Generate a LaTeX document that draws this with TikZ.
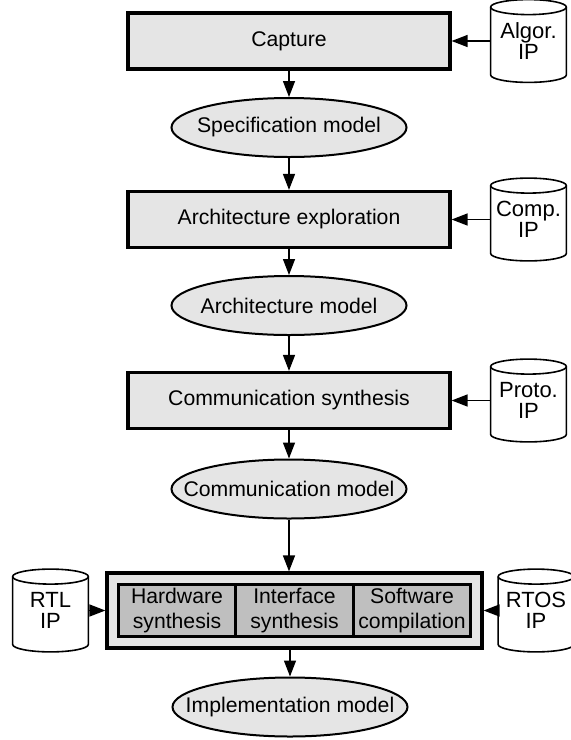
\documentclass[tikz,border=0pt]{standalone}
\usepackage{fontspec}
\setmainfont{Liberation Sans}
\usetikzlibrary{positioning}
\usetikzlibrary{backgrounds}
\usetikzlibrary{arrows.meta}
\usetikzlibrary{shapes.geometric}
\definecolor{stepfill}{gray}{0.9}
\definecolor{subfill}{gray}{0.75}
\tikzset{>={Triangle[length=8pt,width=6pt]}}
\tikzset{flow/.style={->, line width=0.7pt}}
\tikzset{task/.style={draw, line width=1.6pt, fill=stepfill, minimum width=161pt, minimum height=28pt, inner sep=0pt, font=\fontsize{10.6}{12}\selectfont}}
\tikzset{model/.style={draw, ellipse, line width=1pt, fill=stepfill, minimum width=117.5pt, minimum height=29.5pt, inner sep=0pt, font=\fontsize{10.6}{12}\selectfont,
  execute at begin node={\hbox to 0pt\bgroup\hss}, execute at end node={\hss\egroup}}}
\tikzset{lib/.style={minimum width=37.5pt, minimum height=41pt, inner sep=0pt, align=center, font=\fontsize{11}{10.5}\selectfont}}
\tikzset{drum/.style={line width=0.8pt, fill=white}}
\tikzset{sub/.style={draw, line width=1.3pt, fill=subfill, minimum width=58.75pt, minimum height=26pt, inner sep=0pt, align=center, font=\fontsize{10.6}{12.5}\selectfont}}

\begin{document}
\begin{tikzpicture}[x=0.5pt,y=-0.5pt]
        \useasboundingbox (0,0) rectangle (571,740);
        \begin{scope}[on grid]

        \node[task] (capture) at (289,41) {Capture};
        \node[model, below=43.25pt of capture] (spec) {Specification model};
        \node[task, below=46pt of spec] (arch) {Architecture exploration};
        \node[model, below=43pt of arch] (archm) {Architecture model};
        \node[task, below=47.5pt of archm] (comm) {Communication synthesis};
        \node[model, below=44.25pt of comm] (commm) {Communication model};

        \node[task, minimum width=187.5pt, minimum height=37.5pt,
              below right=60.75pt and 2.75pt of commm] (synth) {};
        \node[sub] (intf) at (synth) {Interface\\synthesis};
        \node[sub, left=58.75pt of intf] (hw) {Hardware\\synthesis};
        \node[sub, right=58.75pt of intf] (sw) {Software\\compilation};

        \node[model, below left=48.25pt and 2.25pt of synth] (impl) {Implementation model};

        \node[lib, right=119.75pt of capture] (algor) {Algor.\\IP};
        \node[lib, right=119.75pt of arch] (comp) {Comp.\\IP};
        \node[lib, right=119.75pt of comm] (proto) {Proto.\\IP};
        \node[lib, left=122pt of synth] (rtl) {RTL\\IP};
        \node[lib, right=120.75pt of synth] (rtos) {RTOS\\IP};
        \end{scope}

        % IP libraries as drums behind their labels
        \begin{scope}[on background layer]
        \foreach \ip in {algor,comp,proto,rtl,rtos} {
          \draw[drum] ([yshift=-3.75pt]\ip.north west)
            -- ([yshift=3.75pt]\ip.south west)
            .. controls ([yshift=1.68pt]\ip.south west) and ([xshift=-10.36pt]\ip.south) .. (\ip.south)
            .. controls ([xshift=10.36pt]\ip.south) and ([yshift=1.68pt]\ip.south east) .. ([yshift=3.75pt]\ip.south east)
            -- ([yshift=-3.75pt]\ip.north east)
            .. controls ([yshift=-1.68pt]\ip.north east) and ([xshift=10.36pt]\ip.north) .. (\ip.north)
            .. controls ([xshift=-10.36pt]\ip.north) and ([yshift=-1.68pt]\ip.north west) .. ([yshift=-3.75pt]\ip.north west)
            -- cycle;
          \draw[drum, fill=none] ([yshift=-3.75pt]\ip.north west)
            .. controls ([yshift=-5.82pt]\ip.north west) and ([xshift=-10.36pt,yshift=-7.5pt]\ip.north) .. ([yshift=-7.5pt]\ip.north)
            .. controls ([xshift=10.36pt,yshift=-7.5pt]\ip.north) and ([yshift=-5.82pt]\ip.north east) .. ([yshift=-3.75pt]\ip.north east);
        }
        \end{scope}

        \draw[flow] (capture) -- (spec);
        \draw[flow] (spec) -- (arch);
        \draw[flow] (arch) -- (archm);
        \draw[flow] (archm) -- (comm);
        \draw[flow] (comm) -- (commm);
        \draw[flow] (commm) -- (commm |- synth.north);
        \draw[flow] (synth.south -| impl) -- (impl);

        \draw[flow] (algor) -- (capture);
        \draw[flow] (comp) -- (arch);
        \draw[flow] (proto) -- (comm);
        \draw[flow] (rtl) -- (synth);
        \draw[flow] (rtos) -- (synth);
\end{tikzpicture}
\end{document}
